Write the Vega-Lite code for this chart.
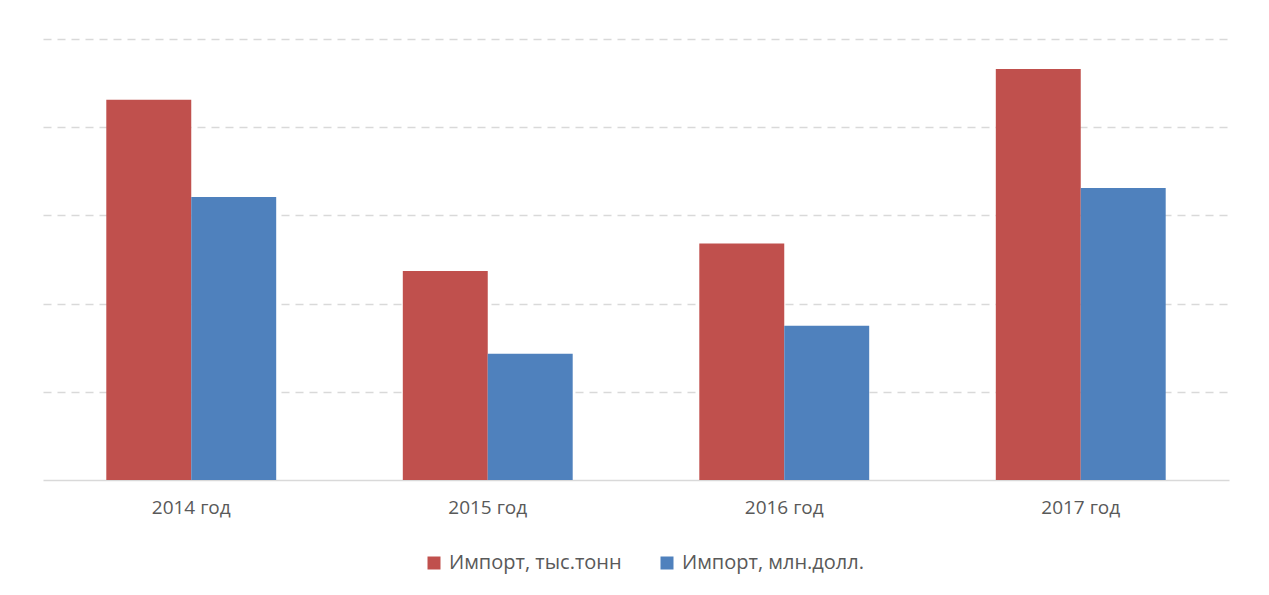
{
  "$schema": "https://vega.github.io/schema/vega-lite/v6.json",
  "width": 1186,
  "height": 441,
  "padding": {"left": 43, "top": 39, "right": 40, "bottom": 10},
  "background": "white",
  "config": {
    "view": {"stroke": null},
    "font": "Open Sans"
  },
  "data": {
    "values": [
      {"year": "2014 год", "series": "Импорт, тыс.тонн", "value": 4.31},
      {"year": "2014 год", "series": "Импорт, млн.долл.", "value": 3.21},
      {"year": "2015 год", "series": "Импорт, тыс.тонн", "value": 2.37},
      {"year": "2015 год", "series": "Импорт, млн.долл.", "value": 1.43},
      {"year": "2016 год", "series": "Импорт, тыс.тонн", "value": 2.68},
      {"year": "2016 год", "series": "Импорт, млн.долл.", "value": 1.75},
      {"year": "2017 год", "series": "Импорт, тыс.тонн", "value": 4.66},
      {"year": "2017 год", "series": "Импорт, млн.долл.", "value": 3.31}
    ]
  },
  "mark": {"type": "bar"},
  "encoding": {
    "x": {
      "field": "year",
      "type": "nominal",
      "scale": {"paddingInner": 0.427, "paddingOuter": 0.2135},
      "axis": {
        "title": null,
        "labelAngle": 0,
        "labelFontSize": 19,
        "labelColor": "#595959",
        "labelPadding": 18,
        "ticks": false,
        "domainColor": "#D9D9D9",
        "domainWidth": 1.5,
        "grid": false
      }
    },
    "xOffset": {
      "field": "series",
      "type": "nominal",
      "sort": ["Импорт, тыс.тонн", "Импорт, млн.долл."],
      "scale": {"paddingInner": 0, "paddingOuter": 0}
    },
    "y": {
      "field": "value",
      "type": "quantitative",
      "scale": {"domain": [0, 5], "nice": false},
      "axis": {
        "title": null,
        "labels": false,
        "ticks": false,
        "domain": false,
        "tickCount": 5,
        "values": [1, 2, 3, 4, 5],
        "gridColor": "#D9D9D9",
        "gridWidth": 1.5,
        "gridDash": [8, 6]
      }
    },
    "color": {
      "field": "series",
      "type": "nominal",
      "sort": ["Импорт, тыс.тонн", "Импорт, млн.долл."],
      "scale": {"range": ["#C0504D", "#4F81BD"]},
      "legend": {
        "title": null,
        "orient": "none",
        "direction": "horizontal",
        "legendX": 381,
        "legendY": 514,
        "symbolType": "square",
        "symbolSize": 169,
        "symbolStrokeWidth": 0,
        "labelFontSize": 20,
        "labelLimit": 400,
        "labelColor": "#595959",
        "labelOffset": 5,
        "columnPadding": 35
      }
    }
  }
}
